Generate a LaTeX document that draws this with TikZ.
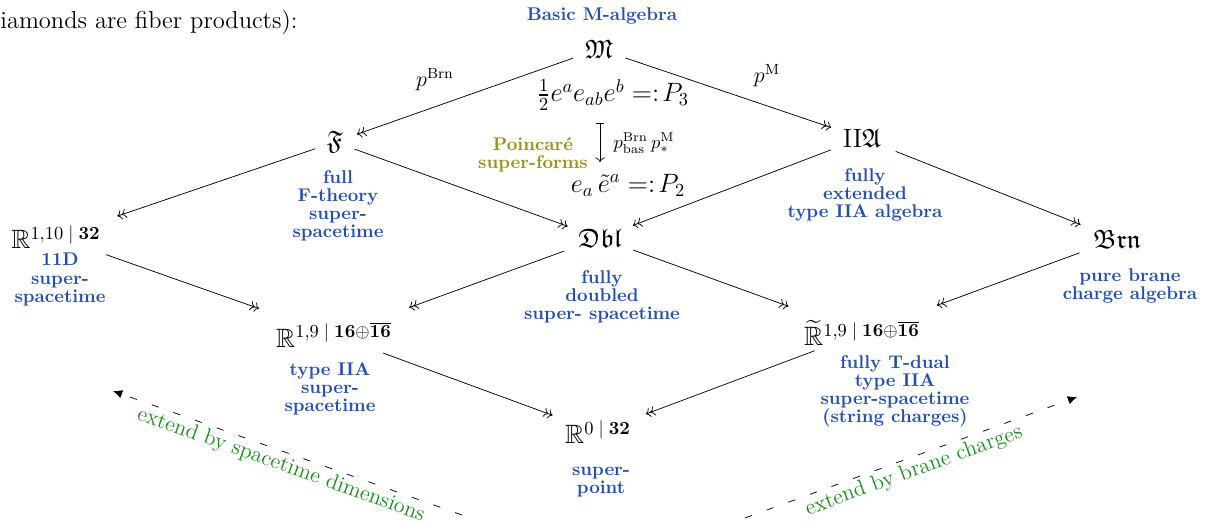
\documentclass[tikz,border=0pt]{standalone}
\usepackage{amsmath}
\usepackage{amssymb}
\usetikzlibrary{arrows.meta}
\definecolor{lblblue}{RGB}{35,80,175}
\definecolor{dgreen}{RGB}{28,140,28}
\definecolor{olivey}{RGB}{150,148,20}
\begin{document}
\begin{tikzpicture}[x=0.5435pt,y=-0.5435pt,
  obj/.style={inner sep=0pt, font=\Large},
  lbl/.style={inner sep=0pt, anchor=north, align=center, text=lblblue, font=\bfseries\fontsize{10}{9.8}\selectfont},
  formula/.style={inner sep=0pt, font=\Large},
  maplbl/.style={inner sep=0pt, font=\large},
  surj/.style={->>},
  extarrow/.style={dash pattern=on 4pt off 8.5pt, -{Latex[length=5pt,width=4.5pt]}},
  extlbl/.style={inner sep=0pt, text=dgreen, font=\large}
]
\useasboundingbox (0,0) rectangle (1210,522);

% fragment of surrounding text
\node[anchor=base west, inner sep=0pt, font=\fontsize{13.3}{16}\selectfont] (intro) at (0,28) {iamonds are fiber products):};

% objects
\node[obj] (M) at (599,49) {$\mathfrak{M}$};
\node[lbl] (Mlbl) at (602,7) {Basic M-algebra};
\node[obj] (F) at (335,142) {$\mathfrak{F}$};
\node[lbl] (Flbl) at (338,170) {full\\F-theory\\super-\\spacetime};
\node[obj] (IIA) at (862,138) {$\mathrm{II}\mathfrak{A}$};
\node[lbl] (IIAlbl) at (865,168) {fully\\extended\\type IIA algebra};
\node[obj] (R110) at (56,237) {$\mathbb{R}^{1,10\;\vert\;\mathbf{32}}$};
\node[lbl] (R110lbl) at (60,253) {11D\\super-\\spacetime};
\node[obj] (Dbl) at (600,238) {$\mathfrak{Dbl}$};
\node[lbl] (Dbllbl) at (602,270) {fully\\doubled\\super- spacetime};
\node[obj] (Brn) at (1117,239) {$\mathfrak{Brn}$};
\node[lbl] (Brnlbl) at (1130,268) {pure brane\\charge algebra};
\node[obj] (R19) at (334,335) {$\mathbb{R}^{1,9\;\vert\;\mathbf{16}\oplus\overline{\mathbf{16}}}$};
\node[lbl] (R19lbl) at (330,362) {type IIA\\super-\\spacetime};
\node[obj] (Rt) at (862,333) {$\widetilde{\mathbb{R}}^{1,9\;\vert\;\mathbf{16}\oplus\overline{\mathbf{16}}}$};
\node[lbl] (Rtlbl) at (895,355) {fully T-dual\\type IIA\\super-spacetime\\(string charges)};
\node[obj] (R0) at (598,432) {$\mathbb{R}^{0\;\vert\;\mathbf{32}}$};
\node[lbl] (R0lbl) at (601,467) {super-\\point};

% super-forms
\node[formula] (P3) at (613,95) {$\frac{1}{2}e^a e_{ab} e^b \mathrel{=:}\!P_3$};
\node[formula] (P2) at (628,185) {$e_a\,\tilde{e}^a \mathrel{=:}\!P_2$};
\node[lbl, text=olivey] (PSF) at (533,137) {Poincar\'e\\super-forms};
\coordinate (vt) at (600,123);
\coordinate (vb) at (600,162);
\draw[|->] (vt) -- (vb);
\node[inner sep=0pt] (pbl) at (644,143) {$p^{\mathrm{Brn}}_{\mathrm{bas}}\,p^{\mathrm{M}}_{\ast}$};

% map labels
\node[maplbl] (pBrn) at (435,80) {$p^{\mathrm{Brn}}$};
\node[maplbl] (pM) at (767,76) {$p^{\mathrm{M}}$};

% surjections
\draw[surj, shorten <=15.1pt, shorten >=12.6pt] (M.center) -- (F.center);
\draw[surj, shorten <=15.1pt, shorten >=17.7pt] (M.center) -- (IIA.center);
\draw[surj, shorten <=11.3pt, shorten >=35.2pt] (F.center) -- (R110.center);
\draw[surj, shorten <=11.3pt, shorten >=18.7pt] (F.center) -- (Dbl.center);
\draw[surj, shorten <=18pt, shorten >=19.1pt] (IIA.center) -- (Dbl.center);
\draw[surj, shorten <=19.7pt, shorten >=21.3pt] (IIA.center) -- (Brn.center);
\draw[surj, shorten <=28.8pt, shorten >=43.2pt] (R110.center) -- (R19.center);
\draw[surj, shorten <=20.7pt, shorten >=43.5pt] (Dbl.center) -- (R19.center);
\draw[surj, shorten <=19.2pt, shorten >=42.5pt] (Dbl.center) -- (Rt.center);
\draw[surj, shorten <=21.7pt, shorten >=43.3pt] (Brn.center) -- (Rt.center);
\draw[surj, shorten <=28.5pt, shorten >=26.3pt] (R19.center) -- (R0.center);
\draw[surj, shorten <=27.5pt, shorten >=27.8pt] (Rt.center) -- (R0.center);

% extension arrows
\coordinate (dlA) at (462,515);
\coordinate (dlB) at (113,391);
\draw[extarrow] (dlA) -- (dlB);
\node[extlbl, rotate=-19.6] (dllbl) at (281,465) {extend by spacetime dimensions};
\coordinate (drA) at (745,518);
\coordinate (drB) at (1077,397);
\draw[extarrow] (drA) -- (drB);
\node[extlbl, rotate=20] (drlbl) at (914,471) {extend by brane charges};
\end{tikzpicture}
\end{document}
